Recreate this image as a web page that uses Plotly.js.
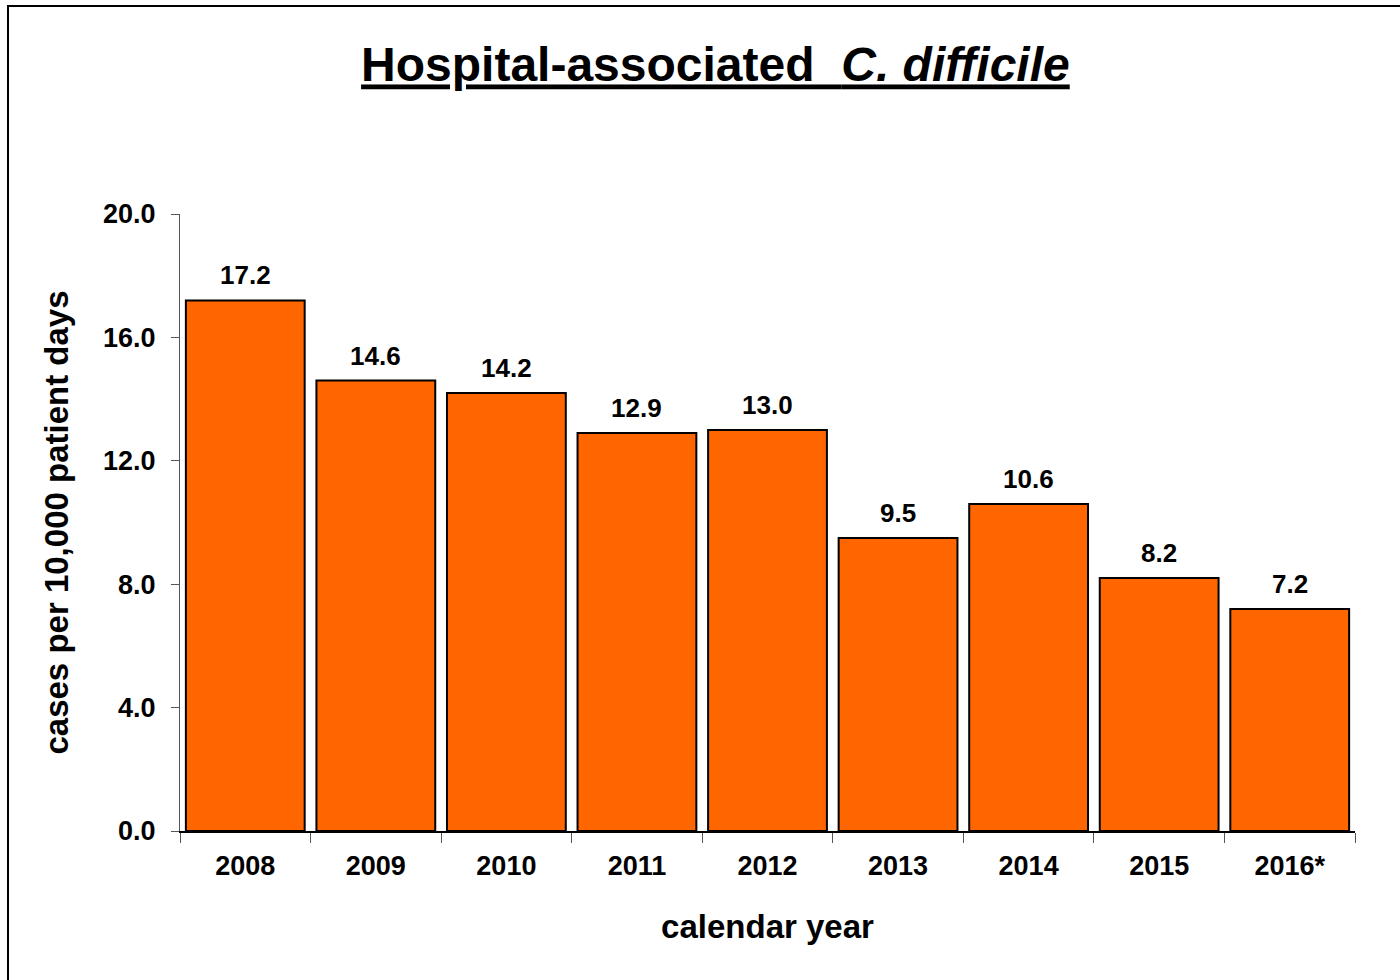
<!DOCTYPE html>
<html>
<head>
<meta charset="utf-8">
<script src="https://cdn.plot.ly/plotly-3.0.1.min.js"></script>
<style>
  html, body { margin: 0; padding: 0; background: #ffffff; }
  #chart { width: 1400px; height: 980px; }
</style>
</head>
<body>
<div id="chart"></div>
<script>
// Hospital-associated C. difficile rates by calendar year
const years = ['2008', '2009', '2010', '2011', '2012', '2013', '2014', '2015', '2016*'];
const rates = [17.2, 14.6, 14.2, 12.9, 13.0, 9.5, 10.6, 8.2, 7.2];
const yTicks = [0, 4, 8, 12, 16, 20];

const FONT = 'Liberation Sans, Arial, sans-serif';

// Plot area geometry (pixels) used to place the frame around the figure
const W = 1400, H = 980;
const M = { l: 180, r: 45, t: 214, b: 149 };
const pw = W - M.l - M.r, ph = H - M.t - M.b;
const px = v => (v - M.l) / pw;
const py = v => (H - M.b - v) / ph;

const bars = {
  type: 'bar',
  x: years,
  y: rates,
  marker: { color: '#FF6600', line: { color: '#000000', width: 2 } },
  hoverinfo: 'x+y'
};

// Value labels above each bar; category axes take the serial index here
const valueLabels = years.map((yr, i) => ({
  x: i,
  y: rates[i],
  xref: 'x',
  yref: 'y',
  text: rates[i].toFixed(1),
  showarrow: false,
  yanchor: 'bottom',
  yshift: 8,
  font: { family: FONT, size: 26, color: '#000000', weight: 'bold' }
}));

const layout = {
  width: W,
  height: H,
  margin: M,
  paper_bgcolor: '#ffffff',
  plot_bgcolor: '#ffffff',
  showlegend: false,
  bargap: 0.09,
  title: {
    text: '<u><b>Hospital-associated  <i>C. difficile</i></b></u>',
    x: 0.511,
    xanchor: 'center',
    y: 0.934,
    yanchor: 'middle',
    font: { family: FONT, size: 48, color: '#000000' }
  },
  xaxis: {
    type: 'category',
    categoryorder: 'array',
    categoryarray: years,
    range: [-0.5, years.length - 0.5],
    showline: true,
    linecolor: '#000000',
    linewidth: 2,
    ticks: 'outside',
    tickson: 'boundaries',
    ticklen: 10,
    tickwidth: 1,
    tickcolor: '#555555',
    tickangle: 0,
    ticklabelstandoff: 10,
    showgrid: false,
    zeroline: false,
    tickfont: { family: FONT, size: 27, color: '#000000', weight: 'bold' },
    title: {
      text: '<b>calendar year</b>',
      font: { family: FONT, size: 33, color: '#000000' },
      standoff: 34
    }
  },
  yaxis: {
    range: [0, 20],
    tickvals: yTicks,
    tickformat: '.1f',
    showline: true,
    linecolor: '#555555',
    linewidth: 1,
    ticks: 'outside',
    ticklen: 8,
    tickwidth: 1,
    tickcolor: '#555555',
    ticklabelstandoff: 10,
    showgrid: false,
    zeroline: false,
    tickfont: { family: FONT, size: 27, color: '#000000', weight: 'bold' },
    title: {
      text: '<b>cases per 10,000 patient days</b>',
      font: { family: FONT, size: 33, color: '#000000' },
      standoff: 24
    }
  },
  annotations: valueLabels,
  shapes: [{
    type: 'rect',
    xref: 'paper',
    yref: 'paper',
    x0: px(8), x1: px(1420),
    y0: py(1000), y1: py(6),
    line: { color: '#000000', width: 2 },
    fillcolor: 'rgba(0,0,0,0)',
    layer: 'above'
  }]
};

Plotly.newPlot('chart', [bars], layout, { displayModeBar: false, staticPlot: true });
</script>
</body>
</html>
